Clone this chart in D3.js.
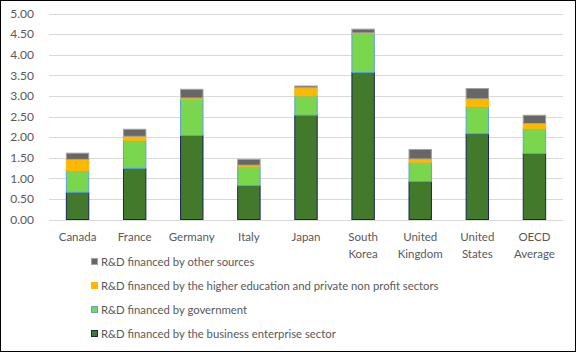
<!DOCTYPE html>
<html>
<head>
<meta charset="utf-8">
<script src="https://cdn.jsdelivr.net/npm/d3@7"></script>
<style>
  body { margin: 0; background: #fff; }
  svg { display: block; font-family: Lato, "Liberation Sans", sans-serif; }
</style>
</head>
<body>
<div class="chart"></div>
<script>
// data
var countries = [["Canada"], ["France"], ["Germany"], ["Italy"], ["Japan"], ["South", "Korea"],
  ["United", "Kingdom"], ["United", "States"], ["OECD", "Average"]];
var business = [0.66, 1.24, 2.04, 0.82, 2.53, 3.57, 0.92, 2.08, 1.60];
var government = [0.52, 0.68, 0.88, 0.47, 0.47, 0.94, 0.47, 0.66, 0.60];
var higherEd = [0.28, 0.10, 0.03, 0.03, 0.20, 0.02, 0.08, 0.19, 0.13];
var other = [0.15, 0.17, 0.21, 0.14, 0.04, 0.09, 0.23, 0.25, 0.20];
var yTicks = [0, 0.5, 1, 1.5, 2, 2.5, 3, 3.5, 4, 4.5, 5];

var seriesInfo = [
  { key: "business", label: "R&D financed by the business enterprise sector", fill: "#43792A", stroke: "#14265A" },
  { key: "government", label: "R&D financed by government", fill: "#79D64D", stroke: "#5BA3D6" },
  { key: "higherEd", label: "R&D financed by the higher education and private non profit sectors", fill: "#FFB800", stroke: "#FFB800" },
  { key: "other", label: "R&D financed by other sources", fill: "#676767", stroke: "#A3A3A3" }
];

var W = 576, H = 352;
var svg = d3.select("div.chart").append("svg")
  .attr("width", W)
  .attr("height", H);

svg.append("rect")
  .attr("x", 0.5).attr("y", 0.5)
  .attr("width", W - 1).attr("height", H - 1)
  .attr("fill", "#fff").attr("stroke", "#000");

var rows = countries.map(function(c, i) {
  return { name: c.join(" "), business: business[i], government: government[i], higherEd: higherEd[i], other: other[i] };
});

var x = d3.scaleBand()
  .domain(rows.map(function(d) { return d.name; }))
  .range([49, 563])
  .paddingInner(0.59)
  .paddingOuter(0.295);

var y = d3.scaleLinear()
  .domain([0, 5])
  .range([219.5, 13.5]);

// gridlines
svg.append("g").selectAll("line")
  .data(yTicks)
  .enter().append("line")
  .attr("x1", 49).attr("x2", 563)
  .attr("y1", function(d) { return Math.round(y(d)) + 0.5; })
  .attr("y2", function(d) { return Math.round(y(d)) + 0.5; })
  .attr("stroke", "#D9D9D9").attr("stroke-width", 1);

// y labels
var yAxis = d3.axisLeft(y).tickValues(yTicks).tickFormat(d3.format(".2f")).tickSize(0).tickPadding(0);
var yg = svg.append("g").attr("transform", "translate(34,0)").call(yAxis);
yg.select(".domain").remove();
yg.selectAll("text").attr("fill", "#595959").style("font-size", "12px").style("font-family", "Lato, sans-serif");

// bars
var stack = d3.stack().keys(seriesInfo.map(function(s) { return s.key; }));
var stacked = stack(rows);

svg.append("g").selectAll("g")
  .data(stacked)
  .enter().append("g")
  .attr("fill", function(d, i) { return seriesInfo[i].fill; })
  .attr("stroke", function(d, i) { return seriesInfo[i].stroke; })
  .selectAll("rect")
  .data(function(d) { return d; })
  .enter().append("rect")
  .attr("x", function(d) { return x(d.data.name) + 0.5; })
  .attr("width", x.bandwidth() - 1)
  .attr("y", function(d) { return y(d[1]); })
  .attr("height", function(d) { return Math.max(0, y(d[0]) - y(d[1])); })
  .attr("stroke-width", 1);

// x labels
var xg = svg.append("g");
rows.forEach(function(r, i) {
  var t = xg.append("text")
    .attr("x", x(r.name) + x.bandwidth() / 2)
    .attr("y", 241)
    .attr("text-anchor", "middle")
    .attr("fill", "#595959")
    .style("font-size", "11.5px");
  countries[i].forEach(function(line, j) {
    t.append("tspan")
      .attr("x", x(r.name) + x.bandwidth() / 2)
      .attr("dy", j == 0 ? 0 : 16.5)
      .text(line);
  });
});

// legend (reversed order)
var legendRows = seriesInfo.slice().reverse();
var lg = svg.append("g").selectAll("g")
  .data(legendRows)
  .enter().append("g")
  .attr("transform", function(d, i) { return "translate(91," + (262 + i * 24) + ")"; });
lg.append("rect")
  .attr("x", 0.5).attr("y", -3.5)
  .attr("width", 6).attr("height", 6)
  .attr("fill", function(d) { return d.fill; })
  .attr("stroke", function(d) { return d.stroke; });
lg.append("text")
  .attr("x", 10).attr("y", 4)
  .attr("fill", "#595959")
  .style("font-size", "11.3px")
  .text(function(d) { return d.label; });
</script>
</body>
</html>
